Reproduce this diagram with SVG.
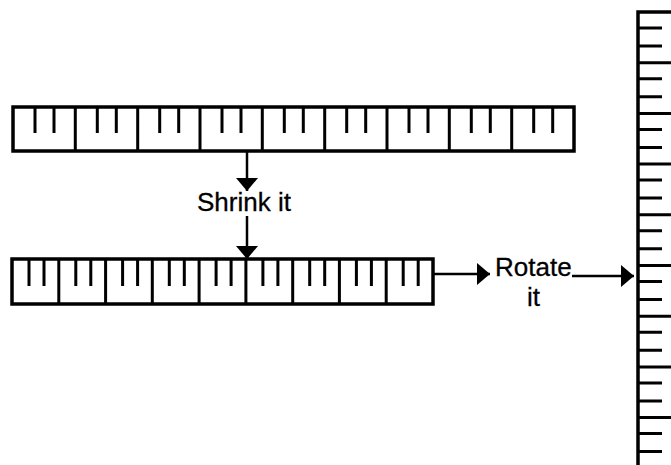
<svg xmlns="http://www.w3.org/2000/svg" width="671" height="465" viewBox="0 0 671 465">
<style>
.frame{fill:none;stroke:#000;stroke-width:3.5}
.div{stroke:#000;stroke-width:3}
.tick{stroke:#000;stroke-width:3}
.conn{stroke:#000;stroke-width:2.5;fill:none}
.lbl{font-family:"Liberation Sans",Arial,sans-serif;font-size:26px;fill:#000;stroke:#000;stroke-width:0.3}
</style>
<defs>
<marker id="ah" markerUnits="userSpaceOnUse" markerWidth="14" markerHeight="24" refX="13" refY="11" orient="auto" viewBox="0 0 14 24">
<path d="M0,0 L13,11 L0,22 z" fill="#000"/>
</marker>
</defs>
<rect width="671" height="465" fill="#fff"/>
<g id="ruler-long">
<rect class="frame" x="13" y="107" width="561" height="44"/>
<path class="div" d="M75.3,107V151M137.7,107V151M200,107V151M262.3,107V151M324.7,107V151M387,107V151M449.3,107V151M511.7,107V151"/>
<path class="tick" d="M35,107V133M54,107V133M97.3,107V133M116.3,107V133M159.7,107V133M178.7,107V133M222,107V133M241,107V133M284.3,107V133M303.3,107V133M346.7,107V133M365.7,107V133M409,107V133M428,107V133M471.3,107V133M490.3,107V133M533.7,107V133M552.7,107V133"/>
</g>
<g id="ruler-short">
<rect class="frame" x="12" y="259" width="421" height="45"/>
<path class="div" d="M58.8,259V304M105.6,259V304M152.3,259V304M199.1,259V304M245.9,259V304M292.7,259V304M339.4,259V304M386.2,259V304"/>
<path class="tick" d="M29,259V286M44,259V286M75.8,259V286M90.8,259V286M122.6,259V286M137.6,259V286M169.3,259V286M184.3,259V286M216.1,259V286M231.1,259V286M262.9,259V286M277.9,259V286M309.7,259V286M324.7,259V286M356.4,259V286M371.4,259V286M403.2,259V286M418.2,259V286"/>
</g>
<g id="ruler-rotated">
<path class="frame" d="M671,12H638V465"/>
<path class="div" d="M638,62.7H671M638,113.4H671M638,164.1H671M638,214.8H671M638,265.5H671M638,316.2H671M638,366.9H671M638,417.6H671"/>
<path class="tick" d="M638,28H662M638,46H662M638,78.7H662M638,96.7H662M638,129.4H662M638,147.4H662M638,180.1H662M638,198.1H662M638,230.8H662M638,248.8H662M638,281.5H662M638,299.5H662M638,332.2H662M638,350.2H662M638,382.9H662M638,400.9H662M638,433.6H662M638,451.6H662"/>
</g>
<g id="label-shrink"><text class="lbl" x="197" y="211">Shrink it</text></g>
<g id="label-rotate">
<text class="lbl" x="495" y="276">Rotate</text>
<text class="lbl" x="527" y="306">it</text>
</g>
<g id="connectors">
<path class="conn" marker-end="url(#ah)" d="M247,151V191"/>
<path class="conn" marker-end="url(#ah)" d="M247,216V259"/>
<path class="conn" marker-end="url(#ah)" d="M433,274H490"/>
<path class="conn" marker-end="url(#ah)" d="M572,276H634"/>
</g>
</svg>
